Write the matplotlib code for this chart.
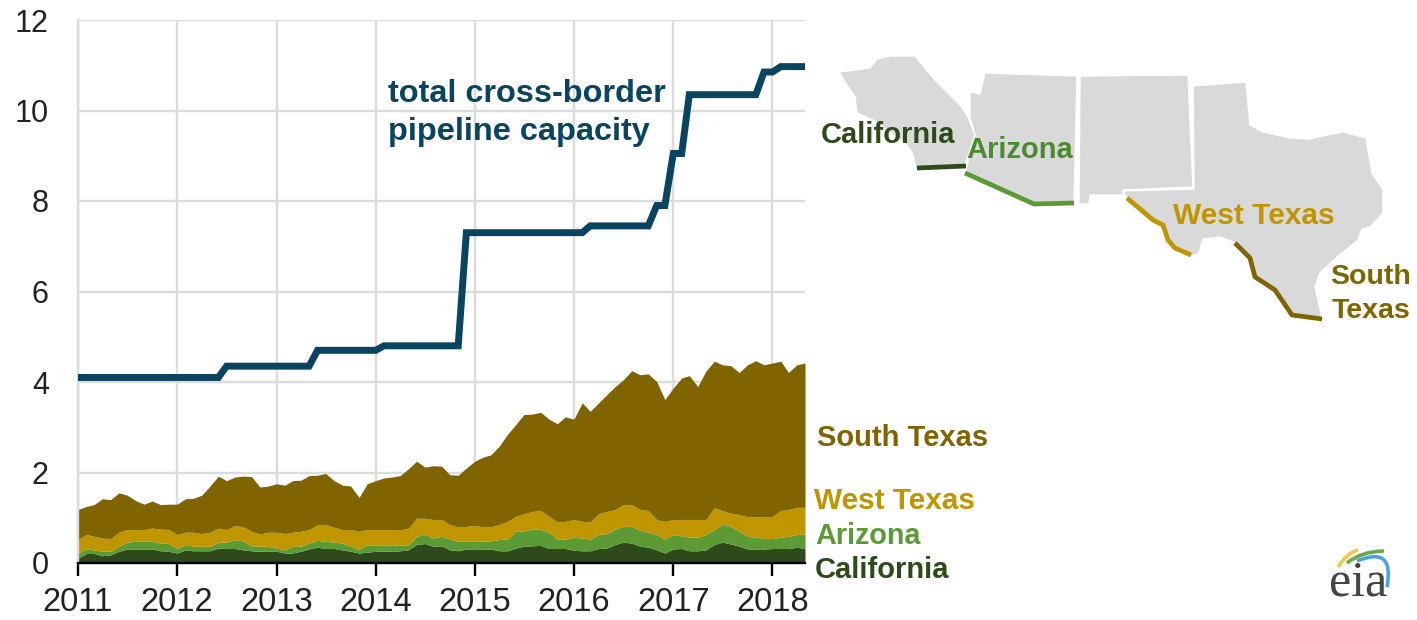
# -*- coding: utf-8 -*-

"""Cross-border pipeline capacity and exports to Mexico, with a small border map."""

import matplotlib
matplotlib.use('Agg')
import matplotlib.pyplot as plt
from matplotlib.patches import PathPatch, Polygon
from matplotlib.path import Path
import numpy as np
import pandas as pd

plt.rcParams['font.family'] = ['Liberation Sans', 'DejaVu Sans']

# monthly values, Jan 2011 to May 2018
months = pd.date_range('2011-01-01', periods=89, freq='MS')
years = [2011, 2012, 2013, 2014, 2015, 2016, 2017, 2018]
yticks = [0, 2, 4, 6, 8, 10, 12]

# capacity
capacity = [4.1] * 18 + [4.35] * 11 + [4.7] * 8 + [4.8] * 10 + [7.3] * 15 + [7.45] * 8 \
    + [7.9] * 2 + [9.05] * 2 + [10.35] * 9 + [10.85] * 2 + [10.97] * 4

# top edge of each stacked band
california_top = [
    .11, .21, .21, .16, .18, .26, .31, .31, .31, .31, .27, .26,
    .22, .29, .27, .27, .27, .33, .32, .32, .29, .27, .26, .26,
    .26, .22, .22, .26, .31, .35, .32, .32, .29, .26, .22, .24,
    .26, .26, .26, .27, .29, .41, .43, .37, .38, .29, .27, .31,
    .31, .31, .31, .27, .27, .33, .37, .38, .39, .32, .32, .32,
    .28, .27, .27, .32, .33, .41, .46, .44, .37, .35, .29, .22,
    .31, .32, .27, .27, .29, .41, .46, .42, .37, .31, .31, .31,
    .32, .32, .32, .35, .32]
arizona_top = [
    .22, .31, .29, .26, .26, .37, .46, .48, .48, .48, .44, .43,
    .32, .41, .37, .37, .37, .46, .46, .52, .48, .38, .37, .37,
    .33, .29, .37, .37, .44, .50, .48, .46, .44, .37, .30, .40,
    .40, .40, .40, .40, .40, .59, .64, .55, .59, .53, .48, .48,
    .48, .48, .49, .52, .53, .70, .71, .75, .74, .68, .53, .53,
    .57, .55, .53, .63, .65, .75, .81, .81, .72, .68, .63, .53,
    .63, .60, .57, .57, .63, .74, .86, .81, .70, .59, .57, .54,
    .54, .57, .59, .63, .64]
west_texas_top = [
    .52, .63, .59, .55, .54, .68, .74, .74, .74, .77, .75, .74,
    .63, .68, .68, .65, .68, .77, .74, .83, .80, .70, .64, .68,
    .68, .65, .68, .70, .74, .85, .85, .79, .74, .74, .70, .74,
    .74, .74, .74, .74, .76, .99, .99, .96, .96, .85, .80, .81,
    .83, .80, .80, .85, .92, 1.03, 1.09, 1.14, 1.16, 1.03, .91, .92,
    .96, .92, .91, 1.09, 1.14, 1.18, 1.29, 1.29, 1.18, 1.16, .96, .92,
    .96, .96, .96, .96, .96, 1.22, 1.16, 1.10, 1.07, 1.02, 1.02, 1.02,
    1.03, 1.16, 1.18, 1.23, 1.23]
south_texas_top = [
    1.18, 1.25, 1.29, 1.42, 1.40, 1.55, 1.50, 1.38, 1.30, 1.37, 1.29, 1.30,
    1.30, 1.42, 1.43, 1.50, 1.70, 1.92, 1.82, 1.90, 1.92, 1.91, 1.68, 1.70,
    1.75, 1.72, 1.82, 1.83, 1.93, 1.94, 1.98, 1.82, 1.72, 1.70, 1.45, 1.75,
    1.82, 1.88, 1.90, 1.93, 2.08, 2.25, 2.12, 2.15, 2.14, 1.95, 1.94, 2.10,
    2.25, 2.34, 2.39, 2.58, 2.84, 3.06, 3.28, 3.29, 3.33, 3.18, 3.08, 3.23,
    3.18, 3.54, 3.35, 3.54, 3.72, 3.90, 4.05, 4.25, 4.16, 4.18, 4.01, 3.61,
    3.87, 4.09, 4.14, 3.90, 4.24, 4.46, 4.38, 4.36, 4.21, 4.38, 4.47, 4.38,
    4.42, 4.46, 4.21, 4.38, 4.42]

# map outlines, in figure pixels
california_shape = [(839, 72), (870, 68), (877, 59), (890, 56), (915, 56), (933, 78), (960, 105),
                    (968, 117), (975, 135), (965, 165), (916, 168), (912, 152), (905, 143),
                    (873, 120), (857, 113), (855, 97), (847, 85)]
arizona_shape = [(985, 73), (1077, 76), (1074, 204), (1034, 204), (965, 173), (975, 135),
                 (970, 117), (970, 92), (980, 94)]
new_mexico_shape = [(1080, 76), (1188, 75), (1193, 187), (1123, 190), (1123, 195), (1090, 195),
                    (1089, 204), (1079, 204)]
texas_shape = [(1193, 86), (1246, 82), (1250, 125), (1263, 132), (1290, 138), (1310, 139),
               (1327, 135), (1343, 132), (1366, 138), (1372, 173), (1383, 190), (1383, 213),
               (1370, 227), (1362, 229), (1358, 240), (1337, 257), (1320, 273), (1315, 287),
               (1322, 318), (1290, 315), (1275, 290), (1255, 277), (1248, 258), (1233, 242),
               (1220, 237), (1203, 239), (1199, 253), (1188, 257), (1170, 245), (1163, 225),
               (1153, 220), (1127, 198), (1123, 191), (1194, 189)]
california_border = [(917, 168), (966, 166)]
arizona_border = [(965, 173), (1034, 204), (1074, 203)]
west_texas_border = [(1127, 198), (1153, 220), (1163, 225), (1168, 240), (1175, 248), (1191, 255)]
south_texas_border = [(1235, 243), (1250, 258), (1255, 277), (1275, 290), (1292, 315), (1322, 319)]

DARK_GREEN = '#2e4a1b'
GREEN = '#5b9a35'
GOLD = '#bf9500'
BROWN = '#806400'
NAVY = '#0a4461'
GRID = '#dcdcdc'
W, H = 1417, 620


def px_box(left, top, right, bottom):
    """Turn a pixel box into figure fractions for add_axes."""
    return [left / W, 1 - bottom / H, (right - left) / W, (bottom - top) / H]


fig = plt.figure(figsize=(W / 100, H / 100), dpi=100)
ax = fig.add_axes(px_box(78, 20, 805, 563))

zero = np.zeros(len(months))
bands = [(zero, california_top, DARK_GREEN), (california_top, arizona_top, GREEN),
         (arizona_top, west_texas_top, GOLD), (west_texas_top, south_texas_top, BROWN)]
for low, high, color in bands:
    ax.fill_between(months, low, high, color=color, lw=0, zorder=2)
ax.plot(months, capacity, color=NAVY, lw=5, solid_joinstyle='miter', zorder=3)

ax.set_xlim(months[0], months[-1])
ax.set_ylim(0, 12)
ax.set_yticks(yticks)
ax.set_xticks([pd.Timestamp(year=y, month=1, day=1) for y in years])
ax.set_xticklabels(years)
ax.grid(color=GRID, lw=1.7, zorder=1)
ax.set_axisbelow(True)
for side in ['top', 'right']:
    ax.spines[side].set_visible(False)
ax.spines['left'].set_color(GRID)
ax.spines['left'].set_linewidth(1.7)
ax.spines['bottom'].set_linewidth(1.7)
ax.tick_params(axis='y', length=0, labelsize=22, pad=21, colors='#222222')
ax.tick_params(axis='x', length=9, width=1.7, labelsize=23.5, pad=8, color='black', labelcolor='#222222')

# everything else goes on a full figure overlay in pixel coordinates
over = fig.add_axes([0, 0, 1, 1])
over.set_xlim(0, W)
over.set_ylim(H, 0)
over.axis('off')
over.patch.set_alpha(0)


def label(x, y, s, color, size=21, **kw):
    over.text(x, y + 2, s, color=color, fontsize=size, fontweight='bold', va='center', **kw)


for shape in [california_shape, arizona_shape, new_mexico_shape, texas_shape]:
    over.add_patch(Polygon(shape, closed=True, fc='#d9d9d9', ec='white', lw=1))
for border, color in [(california_border, DARK_GREEN), (arizona_border, GREEN),
                      (west_texas_border, GOLD), (south_texas_border, BROWN)]:
    xy = np.array(border)
    over.plot(xy[:, 0], xy[:, 1], color=color, lw=3.4, solid_capstyle='butt')

label(388, 92, 'total cross-border', NAVY, size=23.4)
label(388, 130, 'pipeline capacity', NAVY, size=23.4)
label(817, 436, 'South Texas', BROWN)
label(814, 499, 'West Texas', GOLD, size=21.4)
label(815, 534, 'Arizona', GREEN, size=20.7)
label(815, 568, 'California', DARK_GREEN)
label(821, 133, 'California', DARK_GREEN)
label(966, 148, 'Arizona', '#4b8a2e')
label(1173, 214, 'West Texas', GOLD, size=21.5)
label(1371, 275, 'South', BROWN, size=20.5, ha='center')
label(1371, 309, 'Texas', BROWN, size=20.5, ha='center')

# eia logo
over.text(1358, 595, 'eia', family=['Liberation Serif'], fontsize=36, color='#444444',
          ha='center', va='baseline')
arcs = [((1338, 567), (1348, 552), (1358, 550), '#f2c94c'),
        ((1347, 563), (1362, 551), (1384, 551), '#6aa84f'),
        ((1357, 561), (1395, 545), (1387, 587), '#4aa3df')]
for start, ctrl, end, color in arcs:
    path = Path([start, ctrl, end], [Path.MOVETO, Path.CURVE3, Path.CURVE3])
    over.add_patch(PathPatch(path, fc='none', ec=color, lw=2.6))

fig.savefig('out.png', dpi=100)
